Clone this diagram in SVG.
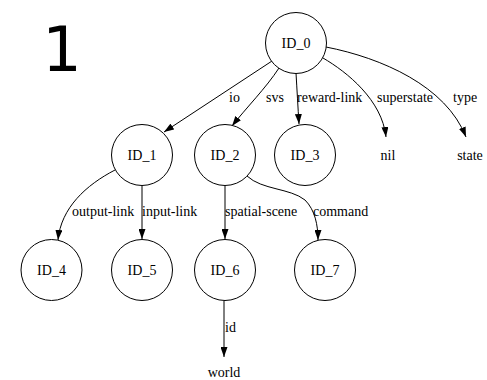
<svg xmlns="http://www.w3.org/2000/svg" width="487" height="380" viewBox="0 0 487 380">
<defs>
<marker id="arr" markerUnits="userSpaceOnUse" markerWidth="10" markerHeight="7" refX="10" refY="3.5" orient="auto">
<path d="M0,0 L10,3.5 L0,7 z" fill="#000"/>
</marker>
</defs>
<style>
.n{fill:#fff;stroke:#000;stroke-width:1}
.c{text-anchor:middle}
.e{fill:none;stroke:#000;stroke-width:1;marker-end:url(#arr)}
.t{font-family:'Liberation Serif','DejaVu Serif',serif;font-size:14px;fill:#000}
</style>
<rect width="487" height="380" fill="#fff"/>
<text x="62" y="71" font-family="DejaVu Sans, sans-serif" font-size="62" text-anchor="middle" fill="#000">1</text>
<g class="t">
<g id="edges">
<path class="e" d="M272,61 L164,132"/>
<path class="e" d="M279,68 C266,88 246,108 232,126"/>
<path class="e" d="M296,73 C297,90 298,108 299,124"/>
<path class="e" d="M323,58 C347,72 382,100 386,137"/>
<path class="e" d="M326,47 C382,58 446,86 466,137"/>
<path class="e" d="M115,170 C86,185 61,208 58,240"/>
<path class="e" d="M142,186 L142,239"/>
<path class="e" d="M225,186 L225,239"/>
<path class="e" d="M247,176 C262,190 290,188 305,200 C315,210 318,225 318,240"/>
<path class="e" d="M224,301 L224,357"/>
<text x="229" y="102">io</text>
<text x="266" y="102">svs</text>
<text x="297" y="102">reward-link</text>
<text x="377" y="102">superstate</text>
<text x="453" y="102">type</text>
<text x="72" y="216">output-link</text>
<text x="142" y="216">input-link</text>
<text x="225" y="216">spatial-scene</text>
<text x="313" y="216">command</text>
<text x="225" y="332">id</text>
</g>
<g id="ID_0"><circle class="n" cx="296" cy="43" r="30.5"/><text class="c" x="296" y="47.5">ID_0</text></g>
<g id="ID_1"><circle class="n" cx="142" cy="155" r="30.5"/><text class="c" x="142" y="159.5">ID_1</text></g>
<g id="ID_2"><circle class="n" cx="225" cy="155" r="30.5"/><text class="c" x="225" y="159.5">ID_2</text></g>
<g id="ID_3"><circle class="n" cx="305" cy="155" r="30.5"/><text class="c" x="305" y="159.5">ID_3</text></g>
<g id="nil"><text class="c" x="388" y="159.5">nil</text></g>
<g id="state"><text class="c" x="470" y="159.5">state</text></g>
<g id="ID_4"><circle class="n" cx="51.5" cy="270" r="30.5"/><text class="c" x="51.5" y="274.5">ID_4</text></g>
<g id="ID_5"><circle class="n" cx="142" cy="270" r="30.5"/><text class="c" x="142" y="274.5">ID_5</text></g>
<g id="ID_6"><circle class="n" cx="225" cy="270" r="30.5"/><text class="c" x="225" y="274.5">ID_6</text></g>
<g id="ID_7"><circle class="n" cx="325" cy="270" r="30.5"/><text class="c" x="325" y="274.5">ID_7</text></g>
<g id="world"><text class="c" x="224" y="377">world</text></g>
</g>
</svg>
